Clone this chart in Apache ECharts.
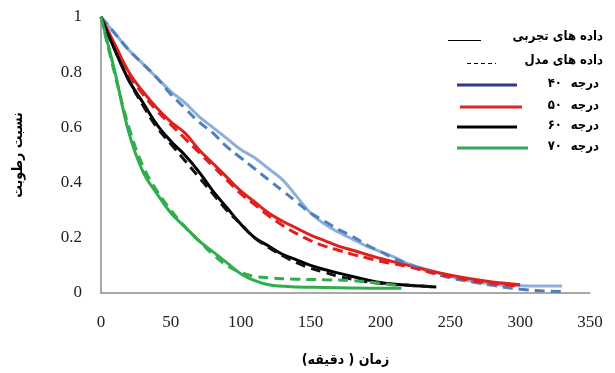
<!DOCTYPE html>
<html>
<head>
<meta charset="utf-8">
<script src="https://cdn.jsdelivr.net/npm/echarts@6/dist/echarts.min.js"></script>
<style>
  html, body { margin: 0; padding: 0; background: #fff; }
  #chart { width: 615px; height: 373px; }
</style>
</head>
<body>
<div id="chart"></div>
<script>
// time (min) and moisture ratio
var xTicks = [0, 50, 100, 150, 200, 250, 300, 350];
var yTicks = [0, 0.2, 0.4, 0.6, 0.8, 1];

var t40 = [0, 10, 20, 30, 40, 50, 60, 70, 80, 90, 100, 110, 120, 130, 140, 150, 160, 170, 180, 190, 200, 210, 220, 230, 240, 250, 260, 270, 280, 290, 300, 315, 330];
var exp40 = [1, 0.94, 0.88, 0.83, 0.78, 0.73, 0.69, 0.64, 0.6, 0.56, 0.52, 0.49, 0.45, 0.41, 0.35, 0.29, 0.25, 0.22, 0.195, 0.17, 0.15, 0.13, 0.105, 0.09, 0.075, 0.06, 0.048, 0.04, 0.032, 0.028, 0.026, 0.025, 0.025];
var mod40 = [1, 0.94, 0.88, 0.83, 0.78, 0.72, 0.67, 0.62, 0.58, 0.53, 0.49, 0.45, 0.41, 0.37, 0.33, 0.29, 0.26, 0.23, 0.205, 0.175, 0.15, 0.125, 0.105, 0.085, 0.068, 0.055, 0.045, 0.036, 0.028, 0.02, 0.014, 0.008, 0.005];

var t50 = [0, 10, 20, 30, 40, 50, 60, 70, 80, 90, 100, 110, 120, 130, 140, 150, 160, 170, 180, 190, 200, 220, 240, 260, 280, 300];
var exp50 = [1, 0.9, 0.8, 0.73, 0.67, 0.62, 0.58, 0.52, 0.47, 0.42, 0.37, 0.33, 0.29, 0.26, 0.235, 0.21, 0.19, 0.17, 0.155, 0.14, 0.125, 0.1, 0.075, 0.055, 0.04, 0.03];
var mod50 = [1, 0.89, 0.79, 0.72, 0.66, 0.61, 0.56, 0.51, 0.46, 0.41, 0.36, 0.32, 0.28, 0.245, 0.215, 0.19, 0.17, 0.155, 0.14, 0.128, 0.115, 0.095, 0.07, 0.05, 0.035, 0.025];

var t60 = [0, 10, 20, 30, 40, 50, 60, 70, 80, 90, 100, 110, 120, 130, 140, 150, 160, 170, 180, 200, 220, 240];
var exp60 = [1, 0.88, 0.77, 0.69, 0.61, 0.55, 0.5, 0.44, 0.37, 0.31, 0.25, 0.2, 0.17, 0.14, 0.12, 0.1, 0.085, 0.072, 0.06, 0.038, 0.028, 0.022];
var mod60 = [1, 0.88, 0.77, 0.68, 0.6, 0.54, 0.48, 0.42, 0.36, 0.3, 0.25, 0.2, 0.165, 0.135, 0.11, 0.09, 0.075, 0.06, 0.05, 0.035, 0.028, 0.022];

var t70 = [0, 10, 20, 30, 40, 50, 60, 70, 80, 90, 100, 110, 120, 140, 160, 180, 200, 215];
var exp70 = [1, 0.8, 0.58, 0.44, 0.36, 0.29, 0.24, 0.19, 0.15, 0.11, 0.07, 0.045, 0.03, 0.022, 0.02, 0.018, 0.017, 0.017];
var mod70 = [1, 0.79, 0.6, 0.46, 0.37, 0.3, 0.24, 0.19, 0.14, 0.1, 0.075, 0.06, 0.055, 0.05, 0.048, 0.045, 0.035, 0.025];

var tempLabels = ['۴۰', '۵۰', '۶۰', '۷۰'];
var legendColors = ['#2e3a87', '#d62a2a', '#000000', '#3aa55a'];

var faFont = '"DejaVu Sans Condensed", "DejaVu Sans", sans-serif';

function pairs(ts, vs) {
  return ts.map(function (t, i) { return [t, vs[i]]; });
}

function mkLine(name, ts, vs, color, dashed) {
  return {
    name: name,
    type: 'line',
    data: pairs(ts, vs),
    smooth: 0.4,
    symbol: 'none',
    z: dashed ? 3 : 2,
    lineStyle: { color: color, width: 3, type: dashed ? [10, 6] : 'solid' }
  };
}

var chart = echarts.init(document.getElementById('chart'));

function label(str, x, y) {
  return {
    type: 'text', x: x, y: y,
    style: { text: str, fontFamily: faFont, fontWeight: 'bold', fontSize: 13, fill: '#000',
      align: 'right', verticalAlign: 'middle' }
  };
}

// hand-made legend (line on the left, Persian text on the right)
var legendItems = [
  label('داده های تجربی', 603, 37),
  { type: 'line', shape: { x1: 448, y1: 40.5, x2: 481, y2: 40.5 }, style: { stroke: '#000', lineWidth: 1.2 } },
  label('داده های مدل', 603, 61),
  { type: 'line', shape: { x1: 467, y1: 63.5, x2: 496, y2: 63.5 }, style: { stroke: '#000', lineWidth: 1.2, lineDash: [4, 3] } }
];
var rowsY = [85, 107, 127, 148];
var rowsX = [[457, 517], [460, 522], [457, 517], [457, 528]];
tempLabels.forEach(function (d, i) {
  legendItems.push({ type: 'line', shape: { x1: rowsX[i][0], y1: rowsY[i], x2: rowsX[i][1], y2: rowsY[i] },
    style: { stroke: legendColors[i], lineWidth: 3 } });
  legendItems.push(label('درجه', 599, rowsY[i] - 1));
  legendItems.push(label(d, 562, rowsY[i] - 1));
});

var option = {
  animation: false,
  backgroundColor: '#fff',
  grid: { left: 101, right: 25, top: 17, bottom: 80 },
  xAxis: {
    type: 'value',
    min: 0, max: 350, interval: 50,
    name: 'زمان ( دقیقه)',
    nameLocation: 'middle',
    nameGap: 60,
    nameTextStyle: { fontFamily: faFont, fontWeight: 'bold', fontSize: 14, color: '#000' },
    axisLine: { show: true, lineStyle: { color: '#8c8c8c', width: 1.5 } },
    axisTick: { show: false },
    splitLine: { show: false },
    axisLabel: { margin: 21, fontFamily: 'Liberation Serif', fontSize: 17, color: '#222',
      customValues: xTicks }
  },
  yAxis: {
    type: 'value',
    min: 0, max: 1, interval: 0.2,
    name: 'نسبت رطوبت',
    nameLocation: 'middle',
    nameGap: 76,
    nameRotate: 90,
    nameTextStyle: { fontFamily: faFont, fontWeight: 'bold', fontSize: 14, color: '#000' },
    axisLine: { show: true, lineStyle: { color: '#8c8c8c', width: 1.5 } },
    axisTick: { show: false },
    splitLine: { show: false },
    axisLabel: { margin: 19, fontFamily: 'Liberation Serif', fontSize: 17, color: '#222',
      customValues: yTicks }
  },
  graphic: legendItems,
  series: [
    mkLine('exp40', t40, exp40, '#8cb0da', false),
    mkLine('mod40', t40, mod40, '#4f7fbc', true),
    mkLine('exp50', t50, exp50, '#e0201c', false),
    mkLine('mod50', t50, mod50, '#e0201c', true),
    mkLine('exp60', t60, exp60, '#000000', false),
    mkLine('mod60', t60, mod60, '#111111', true),
    mkLine('exp70', t70, exp70, '#2fae4e', false),
    mkLine('mod70', t70, mod70, '#2fae4e', true)
  ]
};
chart.setOption(option);
</script>
</body>
</html>
